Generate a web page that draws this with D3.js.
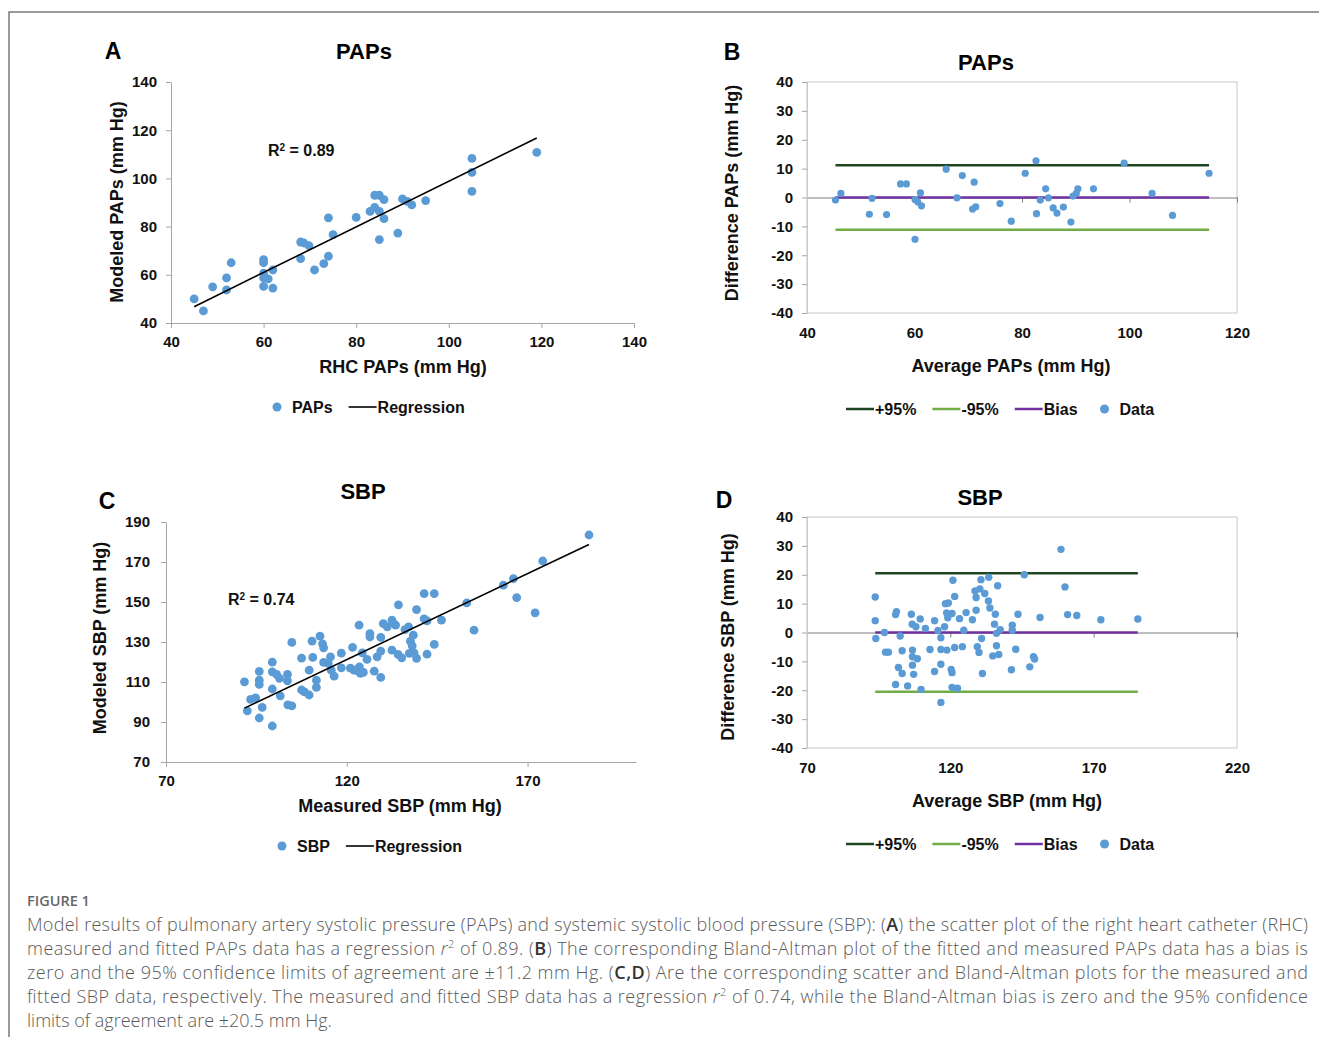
<!DOCTYPE html>
<html>
<head>
<meta charset="utf-8">
<script src="https://cdn.jsdelivr.net/npm/d3@7"></script>
<style>
  body { margin: 0; background: #fff; }
  svg text { font-family: "Liberation Sans", Arial, sans-serif; }
  .caption text { font-family: "Open Sans", "Noto Sans", sans-serif; }
</style>
</head>
<body>
<div id="chart"></div>
<script>

// ---- data ----

// A : PAPs scatter (RHC vs modeled)
var papsRhc = [45, 47, 49, 52, 52, 53, 60, 60, 60, 60, 60, 61, 62, 62, 68, 68.7, 69.8, 68,
  71, 73, 74, 74, 75, 80, 83, 84, 84, 85, 85, 85, 86, 86, 89, 90, 91, 92, 95, 105, 105, 105, 119];
var papsModeled = [50, 45, 55, 58.7, 53.7, 65, 66.3, 65, 60.7, 58.7, 55.2, 58.3, 62, 54.5, 73.6, 73.2, 72.1, 66.7,
  62, 64.6, 67.7, 83.6, 76.7, 83.8, 86.3, 88, 93, 93, 86.3, 74.6, 91.2, 83.3, 77.3, 91.5, 90.5, 89, 90.8, 108.3, 102.5, 94.6, 110.8];
var papsRegression = { slope: 0.946, intercept: 4.2, r2: "0.89" };

// B : PAPs Bland-Altman
var papsAvg = [45.3, 46.3, 51.6, 52.1, 54.8, 57.4, 58.5, 60.1, 60.1, 60.6, 61.1, 61.3, 65.9, 67.9, 68.9,
  70.8, 71.1, 71.4, 75.9, 78.0, 80.6, 82.6, 82.7, 83.4, 84.4, 84.9, 85.8, 86.5, 87.7, 89.1, 89.5, 90.1,
  90.4, 93.3, 99.0, 104.2, 108.0, 114.8];
var papsDiff = [-0.9, 1.4, -5.8, -0.3, -5.9, 4.7, 4.7, -14.5, -0.7, -1.5, 1.6, -2.9, 9.8, -0.1, 7.6,
  -4.0, 5.3, -3.2, -2.1, -8.2, 8.4, 12.7, -5.6, -0.9, 3.0, -0.1, -3.6, -5.4, -3.3, -8.5, 0.5, 1.4,
  3.0, 3.0, 11.9, 1.4, -6.2, 8.4];
var papsLimits = { upper: 11.2, lower: -11.2, bias: 0 };

// C : SBP scatter (measured vs modeled)
var sbpMeasured = [91.7, 92.5, 93.4, 94.8, 95.8, 95.8, 95.8, 95.8, 96.6, 99.4, 99.4, 99.4, 99.4, 100.6, 101.4,
  101.6, 103.6, 103.6, 103.7, 104.8, 104.8, 107.5, 107.5, 108.3, 109.6, 109.6, 110.4, 110.6, 111.6, 111.6,
  112.6, 113.3, 113.6, 113.6, 114.9, 115.5, 115.7, 116.5, 118.5, 118.5, 121.0, 121.6, 122.0, 123.0, 123.4,
  123.5, 123.8, 124.3, 124.6, 125.6, 126.4, 126.4, 127.6, 128.4, 129.4, 129.4, 129.4, 130.1, 131.2, 132.5,
  132.5, 132.8, 133.5, 134.3, 134.2, 135.2, 136.1, 137.1, 137.3, 137.6, 138.1, 138.4, 138.6, 139.3, 139.3,
  141.4, 141.4, 142.2, 142.2, 144.2, 144.2, 146.2, 153.2, 155.2, 163.3, 166.1, 167.0, 172.1, 174.2, 187.0];
var sbpModeled = [110.1, 95.6, 101.3, 102.1, 115.3, 110.9, 108.8, 92.0, 97.3, 119.9, 115.1, 106.5, 88.0, 113.8, 111.8,
  103.1, 113.8, 110.6, 98.6, 98.1, 129.8, 121.9, 106.0, 105.1, 115.9, 103.5, 130.4, 122.3, 110.9, 107.3,
  132.9, 129.1, 127.1, 119.8, 119.3, 122.6, 115.9, 112.9, 124.4, 117.1, 116.9, 127.3, 115.9, 115.6, 138.4,
  117.6, 114.3, 124.6, 114.8, 121.3, 134.2, 132.6, 115.4, 122.6, 132.3, 125.4, 112.3, 139.2, 137.6, 140.9,
  125.9, 139.6, 138.4, 148.6, 123.8, 122.1, 136.2, 137.6, 124.3, 130.4, 128.1, 133.4, 124.6, 146.2, 121.8,
  154.2, 141.6, 140.6, 123.9, 154.2, 128.8, 140.9, 149.6, 135.9, 158.4, 161.7, 152.2, 144.6, 170.5, 183.5];
var sbpRegression = { slope: 0.8585, intercept: 18.2, r2: "0.74" };

// D : SBP Bland-Altman
var sbpAvg = [93.8, 93.8, 94.0, 97.0, 97.4, 98.4, 100.9, 101.2, 100.9, 101.9, 102.5, 103.2, 103.2, 105.1,
  106.4, 106.7, 106.8, 106.8, 106.8, 107.2, 108.0, 108.5, 109.5, 109.8, 111.3, 112.9, 114.5, 114.5, 115.7,
  116.7, 116.7, 116.7, 116.7, 118.0, 118.3, 118.7, 118.8, 119.1, 119.3, 120.3, 120.6, 120.6, 120.6, 120.9,
  121.5, 121.5, 122.5, 123.2, 124.2, 124.7, 125.5, 127.7, 128.6, 129.0, 129.0, 129.4, 130.0, 130.3, 130.7,
  130.9, 131.2, 132.0, 133.3, 133.4, 133.8, 134.8, 135.4, 135.7, 136.1, 136.1, 136.5, 136.9, 137.4, 141.3,
  141.6, 141.6, 142.8, 143.6, 145.8, 147.7, 149.0, 149.4, 151.3, 158.6, 160.0, 160.9, 164.1, 172.5, 185.4];
var sbpDiff = [12.3, 4.1, -2.1, 0, -6.8, -6.8, 6.2, 7.2, -18.0, -12.1, -1.2, -6.3, -14.2, -18.5,
  6.3, 2.9, -6.1, -8.4, -11.3, -14.5, 2.0, -9.1, 4.7, -19.7, 1.4, -5.9, 4.1, -13.5, 0.7,
  -1.8, -11.0, -5.9, -24.2, 2.0, 10.0, 6.8, -6.1, 5.1, 10.2, -12.8, 6.6, -13.9, -19.0, 18.1,
  12.5, -5.2, -19.3, 4.8, -4.9, 0.8, 6.9, 4.4, 14.4, 12.1, 7.7, -4.9, -6.9, 15.1, 18.3,
  -2.1, -14.2, 13.5, 10.9, 19.1, 8.5, -8.1, 2.9, 6.3, -4.6, -0.3, 16.2, -7.6, 1.0, -12.9,
  2.5, 0.8, -5.8, 6.3, 20.0, -11.9, -8.4, -9.2, 5.2, 28.8, 15.8, 6.2, 5.9, 4.4, 4.7];
var sbpLimits = { upper: 20.5, lower: -20.5, bias: 0 };

// ---- styles ----
var dotColor = "#5b9bd5",
    upperColor = "#1e4620",
    lowerColor = "#70ad47",
    biasColor = "#7030a0",
    axisColor = "#a6a6a6",
    boxColor = "#c8c8c8",
    textColor = "#111";

var plainNum = d => String(d); // Excel style hyphen minus

var svg = d3.select("#chart").append("svg")
    .attr("width", 1319)
    .attr("height", 1037);

// figure frame (top and left rules)
svg.append("path")
    .attr("d", "M9,1037V12H1319")
    .attr("fill", "none")
    .attr("stroke", "#7a7a7a")
    .attr("stroke-width", 1.5);

function styleAxis(g) {
  g.selectAll(".domain").attr("stroke", axisColor);
  g.selectAll(".tick line").attr("stroke", axisColor);
  g.selectAll(".tick text")
      .attr("fill", textColor)
      .style("font-size", "15px")
      .style("font-weight", "bold");
}

function panelText(g, p) {
  g.append("text")
      .attr("x", p.letterX).attr("y", p.letterY)
      .attr("text-anchor", "middle")
      .style("font-size", "23px").style("font-weight", "bold")
      .text(p.letter);
  g.append("text")
      .attr("x", p.titleX).attr("y", p.titleY)
      .attr("text-anchor", "middle")
      .style("font-size", "22px").style("font-weight", "bold")
      .text(p.title);
  g.append("text")
      .attr("transform", "translate(" + p.yTitleX + "," + p.yTitleY + ") rotate(-90)")
      .attr("text-anchor", "middle").attr("dy", "0.35em")
      .style("font-size", "18px").style("font-weight", "bold")
      .attr("fill", textColor)
      .text(p.yTitle);
  g.append("text")
      .attr("x", p.xTitleX).attr("y", p.xTitleY)
      .attr("text-anchor", "middle").attr("dy", "0.35em")
      .style("font-size", "18px").style("font-weight", "bold")
      .attr("fill", textColor)
      .text(p.xTitle);
}

// legend laid out left to right from measured text widths
function legend(g, items, x0, y) {
  var cx = x0;
  items.forEach(function (it, i) {
    if (it.type == "dot") {
      if (i > 0) cx += 22;
      g.append("circle").attr("cx", cx + 5).attr("cy", y).attr("r", 4.5).attr("fill", it.color);
      cx += 20;
    } else {
      if (i > 0) cx += 16;
      g.append("line")
          .attr("x1", cx).attr("x2", cx + 28)
          .attr("y1", y).attr("y2", y)
          .attr("stroke", it.color).attr("stroke-width", it.width || 2.5);
      cx += 29;
    }
    var t = g.append("text")
        .attr("x", cx).attr("y", y).attr("dy", "0.35em")
        .style("font-size", "16px").style("font-weight", "bold")
        .attr("fill", textColor)
        .text(it.label);
    cx += t.node().getComputedTextLength();
  });
}

function scatterPanel(p) {
  var g = svg.append("g");
  var x = d3.scaleLinear().domain(p.xDomain).range([p.left, p.right]);
  var y = d3.scaleLinear().domain(p.yDomain).range([p.bottom, p.top]);

  g.append("g")
      .attr("transform", "translate(0," + p.bottom + ")")
      .call(d3.axisBottom(x).tickValues(p.xTicks).tickFormat(plainNum)
        .tickSizeInner(5).tickSizeOuter(0).tickPadding(8))
      .call(styleAxis);
  g.append("g")
      .attr("transform", "translate(" + p.left + ",0)")
      .call(d3.axisLeft(y).tickValues(p.yTicks).tickFormat(plainNum)
        .tickSizeInner(5).tickSizeOuter(0).tickPadding(p.yPad))
      .call(styleAxis);

  var pts = p.xs.map(function (v, i) { return { x: v, y: p.ys[i] }; });
  g.selectAll(".pt").data(pts).enter().append("circle")
      .attr("class", "pt")
      .attr("cx", d => x(d.x))
      .attr("cy", d => y(d.y))
      .attr("r", p.r)
      .attr("fill", dotColor);

  var ext = d3.extent(p.xs);
  var reg = p.reg;
  g.append("line")
      .attr("x1", x(ext[0])).attr("y1", y(reg.slope * ext[0] + reg.intercept))
      .attr("x2", x(ext[1])).attr("y2", y(reg.slope * ext[1] + reg.intercept))
      .attr("stroke", "#000").attr("stroke-width", 1.6);

  var r2 = g.append("text")
      .attr("x", p.r2X).attr("y", p.r2Y).attr("dy", "0.35em")
      .style("font-size", "16px").style("font-weight", "bold")
      .attr("fill", textColor);
  r2.append("tspan").text("R");
  r2.append("tspan").attr("baseline-shift", "super").style("font-size", "10px").text("2");
  r2.append("tspan").text(" = " + reg.r2);

  panelText(g, p);
  legend(g, [
    { type: "dot", color: dotColor, label: p.seriesName },
    { type: "line", color: "#000", label: "Regression", width: 1.6 }
  ], p.legendX, p.legendY);
}

function blandPanel(p) {
  var g = svg.append("g");
  var x = d3.scaleLinear().domain(p.xDomain).range([p.left, p.right]);
  var y = d3.scaleLinear().domain(p.yDomain).range([p.bottom, p.top]);

  g.append("rect")
      .attr("x", p.left).attr("y", p.top)
      .attr("width", p.right - p.left).attr("height", p.bottom - p.top)
      .attr("fill", "none").attr("stroke", boxColor);

  // tick labels under the box
  var xl = g.append("g")
      .attr("transform", "translate(0," + p.bottom + ")")
      .call(d3.axisBottom(x).tickValues(p.xTicks).tickFormat(plainNum).tickSize(0).tickPadding(14))
      .call(styleAxis);
  xl.select(".domain").remove();

  // category axis crossing at zero
  var z = g.append("g")
      .attr("transform", "translate(0," + y(0) + ")")
      .call(d3.axisBottom(x).tickValues(p.xTicks).tickSizeInner(5).tickSizeOuter(0).tickFormat(""));
  z.selectAll(".domain, .tick line").attr("stroke", "#7f7f7f");

  var yl = g.append("g")
      .attr("transform", "translate(" + p.left + ",0)")
      .call(d3.axisLeft(y).tickValues(p.yTicks).tickFormat(plainNum)
        .tickSizeInner(5).tickSizeOuter(0).tickPadding(9))
      .call(styleAxis);
  yl.select(".domain").attr("stroke", boxColor);

  var ext = d3.extent(p.xs);
  var lims = [
    { v: p.lim.upper, c: upperColor },
    { v: p.lim.lower, c: lowerColor },
    { v: p.lim.bias, c: biasColor }
  ];
  g.selectAll(".lim").data(lims).enter().append("line")
      .attr("class", "lim")
      .attr("x1", x(ext[0])).attr("x2", x(ext[1]))
      .attr("y1", d => y(d.v)).attr("y2", d => y(d.v))
      .attr("stroke", d => d.c).attr("stroke-width", 2.5);

  var pts = p.xs.map(function (v, i) { return { x: v, y: p.ys[i] }; });
  g.selectAll(".pt").data(pts).enter().append("circle")
      .attr("class", "pt")
      .attr("cx", d => x(d.x))
      .attr("cy", d => y(d.y))
      .attr("r", p.r)
      .attr("fill", dotColor);

  panelText(g, p);
  legend(g, [
    { type: "line", color: upperColor, label: "+95%" },
    { type: "line", color: lowerColor, label: "-95%" },
    { type: "line", color: biasColor, label: "Bias" },
    { type: "dot", color: dotColor, label: "Data" }
  ], p.legendX, p.legendY);
}

scatterPanel({
  xs: papsRhc, ys: papsModeled, reg: papsRegression, seriesName: "PAPs",
  xDomain: [40, 140], yDomain: [40, 140],
  xTicks: [40, 60, 80, 100, 120, 140], yTicks: [40, 60, 80, 100, 120, 140],
  left: 171, right: 634, top: 82, bottom: 323, yPad: 9, r: 4.4,
  letter: "A", letterX: 113, letterY: 59,
  title: "PAPs", titleX: 364, titleY: 59,
  yTitle: "Modeled PAPs (mm Hg)", yTitleX: 117, yTitleY: 202,
  xTitle: "RHC PAPs (mm Hg)", xTitleX: 403, xTitleY: 367,
  r2X: 268, r2Y: 150,
  legendX: 272, legendY: 407
});

blandPanel({
  xs: papsAvg, ys: papsDiff, lim: papsLimits,
  xDomain: [40, 120], yDomain: [-40, 40],
  xTicks: [40, 60, 80, 100, 120], yTicks: d3.range(-40, 41, 10),
  left: 807, right: 1237, top: 82, bottom: 313, r: 3.6,
  letter: "B", letterX: 732, letterY: 60,
  title: "PAPs", titleX: 986, titleY: 70,
  yTitle: "Difference PAPs (mm Hg)", yTitleX: 732, yTitleY: 193,
  xTitle: "Average PAPs (mm Hg)", xTitleX: 1011, xTitleY: 366,
  legendX: 846, legendY: 409
});

scatterPanel({
  xs: sbpMeasured, ys: sbpModeled, reg: sbpRegression, seriesName: "SBP",
  xDomain: [70, 200], yDomain: [70, 190],
  xTicks: [70, 120, 170], yTicks: [70, 90, 110, 130, 150, 170, 190],
  left: 166, right: 636, top: 522, bottom: 762, yPad: 11, r: 4.4,
  letter: "C", letterX: 107, letterY: 509,
  title: "SBP", titleX: 363, titleY: 499,
  yTitle: "Modeled SBP (mm Hg)", yTitleX: 100, yTitleY: 638,
  xTitle: "Measured SBP (mm Hg)", xTitleX: 400, xTitleY: 806,
  r2X: 228, r2Y: 599,
  legendX: 277, legendY: 846
});

blandPanel({
  xs: sbpAvg, ys: sbpDiff, lim: sbpLimits,
  xDomain: [70, 220], yDomain: [-40, 40],
  xTicks: [70, 120, 170, 220], yTicks: d3.range(-40, 41, 10),
  left: 807, right: 1237, top: 517, bottom: 748, r: 3.7,
  letter: "D", letterX: 724, letterY: 508,
  title: "SBP", titleX: 980, titleY: 505,
  yTitle: "Difference SBP (mm Hg)", yTitleX: 728, yTitleY: 637,
  xTitle: "Average SBP (mm Hg)", xTitleX: 1007, xTitleY: 801,
  legendX: 846, legendY: 844
});

// ---- caption ----
var captionLines = [
  [["Model results of pulmonary artery systolic pressure (PAPs) and systemic systolic blood pressure (SBP): ("], ["A", "b"], [") the scatter plot of the right heart catheter (RHC)"]],
  [["measured and fitted PAPs data has a regression "], ["r", "i"], ["2", "s"], [" of 0.89. ("], ["B", "b"], [") The corresponding Bland-Altman plot of the fitted and measured PAPs data has a bias is"]],
  [["zero and the 95% confidence limits of agreement are \u00b111.2 mm Hg. ("], ["C,D", "b"], [") Are the corresponding scatter and Bland-Altman plots for the measured and"]],
  [["fitted SBP data, respectively. The measured and fitted SBP data has a regression "], ["r", "i"], ["2", "s"], [" of 0.74, while the Bland-Altman bias is zero and the 95% confidence"]],
  [["limits of agreement are \u00b120.5 mm Hg."]]
];

var cap = svg.append("g").attr("class", "caption");
cap.append("text")
    .attr("x", 27).attr("y", 906)
    .attr("fill", "#666")
    .style("font-size", "14.5px").style("font-weight", 600)
    .text("FIGURE 1");

captionLines.forEach(function (line, i) {
  var t = cap.append("text")
      .attr("x", 27).attr("y", 931 + i * 24)
      .attr("fill", "#5a5a5a")
      .style("font-size", "18px").style("font-weight", 300);
  line.forEach(function (seg) {
    var s = t.append("tspan").text(seg[0]);
    if (seg[1] == "b") s.style("font-weight", 600).attr("fill", "#333");
    if (seg[1] == "i") s.style("font-style", "italic");
    if (seg[1] == "s") s.attr("baseline-shift", "super").style("font-size", "11px");
  });
  if (i < captionLines.length - 1) {
    t.attr("textLength", 1281).attr("lengthAdjust", "spacing");
  }
});

</script>
</body>
</html>
